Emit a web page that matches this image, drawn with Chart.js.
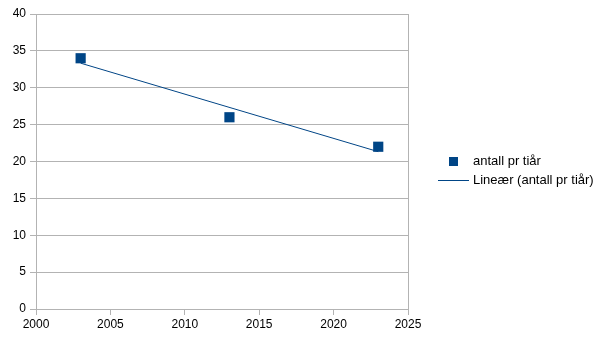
<!DOCTYPE html>
<html>
<head>
<meta charset="utf-8">
<script src="https://cdn.jsdelivr.net/npm/chart.js@4/dist/chart.umd.min.js"></script>
<style>
  html, body { margin: 0; padding: 0; background: #ffffff; }
  #wrap { width: 606px; height: 341px; position: relative; }
</style>
</head>
<body>
<div id="wrap"><canvas id="c" width="606" height="341"></canvas></div>
<script>
// Decade samples
const years = [2003, 2013, 2023];
const perDecade = [34, 26, 22];

// Axis settings
const xTicks = [2000, 2005, 2010, 2015, 2020, 2025];
const yTicks = [0, 5, 10, 15, 20, 25, 30, 35, 40];

const seriesName = 'antall pr tiår';
const trendName = 'Lineær (antall pr tiår)';
const blue = '#004586';
const gridGrey = '#b3b3b3';
const font = { family: '"Liberation Sans", Arial, sans-serif', size: 12 };

// Least-squares linear trend through the points
function linearFit(xs, ys) {
  const n = xs.length;
  const mx = xs.reduce((a, b) => a + b, 0) / n;
  const my = ys.reduce((a, b) => a + b, 0) / n;
  let sxy = 0, sxx = 0;
  for (let i = 0; i < n; i++) {
    sxy += (xs[i] - mx) * (ys[i] - my);
    sxx += (xs[i] - mx) * (xs[i] - mx);
  }
  const slope = sxy / sxx;
  return x => my + slope * (x - mx);
}
const fit = linearFit(years, perDecade);
const trendX = [years[0], years[years.length - 1]];

// Legend drawn to the right of the plot
const sideLegend = {
  id: 'sideLegend',
  afterDraw(chart) {
    const ctx = chart.ctx;
    ctx.save();
    ctx.fillStyle = blue;
    ctx.fillRect(449, 157, 9, 9);
    ctx.strokeStyle = blue;
    ctx.lineWidth = 1;
    ctx.beginPath();
    ctx.moveTo(438, 180.5);
    ctx.lineTo(469, 180.5);
    ctx.stroke();
    ctx.fillStyle = '#000000';
    ctx.font = '13px "Liberation Sans", Arial, sans-serif';
    ctx.textBaseline = 'middle';
    ctx.textAlign = 'left';
    ctx.fillText(seriesName, 473, 161.5);
    ctx.fillText(trendName, 473, 180.5);
    ctx.restore();
  }
};

new Chart(document.getElementById('c'), {
  type: 'scatter',
  data: {
    datasets: [
      {
        label: trendName,
        data: trendX.map(x => ({ x: x, y: fit(x) })),
        showLine: true,
        borderColor: blue,
        borderWidth: 1,
        pointRadius: 0,
        order: 2
      },
      {
        label: seriesName,
        data: years.map((x, i) => ({ x: x, y: perDecade[i] })),
        pointStyle: 'rect',
        pointRadius: 7.2,
        pointHoverRadius: 7.2,
        backgroundColor: blue,
        borderColor: blue,
        borderWidth: 0,
        order: 1
      }
    ]
  },
  options: {
    responsive: false,
    animation: false,
    events: [],
    layout: { padding: { top: 14, right: 198, left: 0, bottom: 0 } },
    plugins: { legend: { display: false }, tooltip: { enabled: false } },
    scales: {
      x: {
        type: 'linear',
        min: 2000,
        max: 2025,
        afterBuildTicks: s => { s.ticks = xTicks.map(v => ({ value: v })); },
        afterFit: s => { s.height = 32; },
        ticks: { color: '#000000', font: font, padding: 2, maxRotation: 0, callback: v => String(v) },
        grid: {
          color: c => (c.tick && c.tick.value === 2025 ? gridGrey : 'rgba(0,0,0,0)'),
          tickColor: gridGrey,
          tickLength: 6,
          lineWidth: 1
        },
        border: { display: true, color: gridGrey }
      },
      y: {
        min: 0,
        max: 40,
        afterBuildTicks: s => { s.ticks = yTicks.map(v => ({ value: v })); },
        afterFit: s => { s.width = 36; },
        ticks: { color: '#000000', font: font, padding: 4 },
        grid: { color: gridGrey, tickColor: gridGrey, tickLength: 6, lineWidth: 1 },
        border: { display: true, color: gridGrey }
      }
    }
  },
  plugins: [sideLegend]
});
</script>
</body>
</html>
